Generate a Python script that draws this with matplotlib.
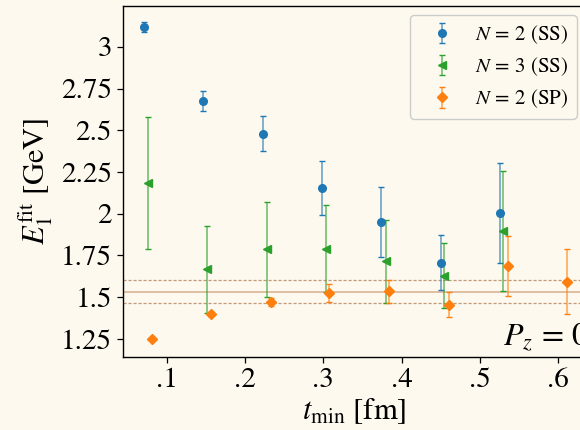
import matplotlib
matplotlib.use("Agg")
import matplotlib.pyplot as plt
import numpy as np

plt.rcParams['font.family'] = ['STIXGeneral', 'DejaVu Serif']
plt.rcParams['mathtext.fontset'] = 'stix'

# Data
t_ss2 = [0.071, 0.1464, 0.2226, 0.298, 0.3737, 0.450, 0.5257]
e_ss2 = [3.118, 2.676, 2.478, 2.154, 1.950, 1.707, 2.004]
err_ss2 = [0.032, 0.058, 0.105, 0.160, 0.210, 0.163, 0.300]

t_ss3 = [0.0761, 0.152, 0.2277, 0.303, 0.3797, 0.4545, 0.530]
e_ss3 = [2.182, 1.668, 1.787, 1.790, 1.716, 1.630, 1.896]
err_ss3 = [0.395, 0.260, 0.285, 0.260, 0.248, 0.195, 0.358]

t_sp2 = [0.0808, 0.1562, 0.2328, 0.3077, 0.3839, 0.4605, 0.5355, 0.6117]
e_sp2 = [1.250, 1.402, 1.472, 1.526, 1.536, 1.455, 1.686, 1.594]
err_sp2 = [0.005, 0.012, 0.025, 0.054, 0.070, 0.075, 0.180, 0.195]

band_center = 1.533
band_err = 0.070

xticks = [0.1, 0.2, 0.3, 0.4, 0.5, 0.6]
xticklabels = ['.1', '.2', '.3', '.4', '.5', '.6']
yticks = [1.25, 1.5, 1.75, 2.0, 2.25, 2.5, 2.75, 3.0]
yticklabels = ['1.25', '1.5', '1.75', '2', '2.25', '2.5', '2.75', '3']

bg = '#fdf9ee'
fig = plt.figure(figsize=(5.8, 4.3), dpi=100, facecolor=bg)
ax = fig.add_axes([123/580, 1 - 357/430, (586 - 123)/580, (357 - 5.7)/430])
ax.set_facecolor(bg)

line_c = '#d9b596'
dash_c = '#c4987a'
ax.axhline(band_center, color=line_c, lw=1.2, zorder=1)
ax.axhline(band_center + band_err, color=dash_c, lw=0.9, ls=(0, (2.5, 1.5)), zorder=1)
ax.axhline(band_center - band_err, color=dash_c, lw=0.9, ls=(0, (2.5, 1.5)), zorder=1)

def eb(x, y, e, color, marker, ms, label):
    h = ax.errorbar(x, y, yerr=e, fmt=marker, color=color, ms=ms, capsize=2.2,
                    elinewidth=1.2, capthick=1.0, label=label, zorder=3)
    for c in h[2]:
        c.set_alpha(0.65)
    return h

eb(t_ss2, e_ss2, err_ss2, '#1f77b4', 'o', 5.5, r'$N\,=\,2$ (SS)')
eb(t_ss3, e_ss3, err_ss3, '#2ca02c', '<', 6, r'$N\,=\,3$ (SS)')
eb(t_sp2, e_sp2, err_sp2, '#ff7f0e', 'D', 5.5, r'$N\,=\,2$ (SP)')

ax.set_xlim(0.0442, 0.6355)
ax.set_ylim(1.142, 3.246)
ax.set_xticks(xticks)
ax.set_xticklabels(xticklabels)
ax.set_yticks(yticks)
ax.set_yticklabels(yticklabels)
ax.tick_params(direction='out', length=4, width=0.9, labelsize=21, pad=4)
for s in ax.spines.values():
    s.set_linewidth(1.0)

ax.set_xlabel(r'$t_{\rm min}$ [fm]', fontsize=22, labelpad=2)
ax.set_ylabel(r'$E_1^{\rm fit}$ [GeV]', fontsize=22, labelpad=4)

ax.text(0.821, 0.034, r'$P_z\,=\,0$', transform=ax.transAxes, fontsize=23,
        ha='left', va='baseline')

leg = ax.legend(loc='upper right', fontsize=15, frameon=True, fancybox=True,
                edgecolor='#cccccc', facecolor=bg, framealpha=1.0,
                handlelength=2.2, handletextpad=0.5, borderpad=0.4,
                labelspacing=0.45, borderaxespad=0.45)

fig.savefig('out.png', dpi=100, facecolor=bg)
